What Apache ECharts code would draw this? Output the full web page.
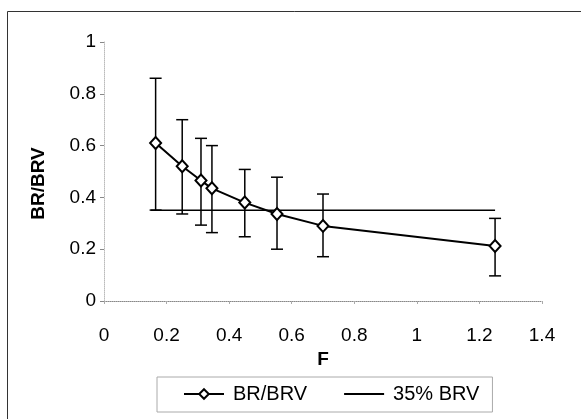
<!DOCTYPE html>
<html>
<head>
<meta charset="utf-8">
<script src="https://cdn.jsdelivr.net/npm/echarts@6/dist/echarts.min.js"></script>
<style>
  html, body { margin: 0; padding: 0; background: #fff; }
  #chart { width: 581px; height: 419px; }
</style>
</head>
<body>
<div id="chart"></div>
<script>
var fValues = [0.165, 0.25, 0.31, 0.345, 0.45, 0.553, 0.70, 1.25];
var ratio   = [0.61, 0.52, 0.465, 0.435, 0.38, 0.336, 0.29, 0.212];
var errHigh = [0.86, 0.70, 0.628, 0.60, 0.508, 0.478, 0.413, 0.319];
var errLow  = [0.351, 0.336, 0.293, 0.264, 0.248, 0.20, 0.171, 0.097];
var limitX  = [0.15, 1.25];
var limitY  = 0.35;

var font = 'Liberation Sans, Arial, sans-serif';

var lineData = fValues.map(function (f, i) { return [f, ratio[i]]; });
var errData = fValues.map(function (f, i) { return [f, errLow[i], errHigh[i]]; });
var limitData = limitX.map(function (x) { return [x, limitY]; });

function renderError(params, api) {
    var top = api.coord([api.value(0), api.value(2)]);
    var bot = api.coord([api.value(0), api.value(1)]);
    var w = 6;
    var st = { stroke: '#000', lineWidth: 1.5 };
    return {
        type: 'group',
        children: [
            { type: 'line', shape: { x1: top[0], y1: top[1], x2: bot[0], y2: bot[1] }, style: st },
            { type: 'line', shape: { x1: top[0] - w, y1: top[1], x2: top[0] + w, y2: top[1] }, style: st },
            { type: 'line', shape: { x1: bot[0] - w, y1: bot[1], x2: bot[0] + w, y2: bot[1] }, style: st }
        ]
    };
}

var chart = echarts.init(document.getElementById('chart'));
chart.setOption({
    animation: false,
    backgroundColor: '#fff',
    textStyle: { fontFamily: font, color: '#000' },
    graphic: [{
        type: 'rect',
        left: 5, top: 9,
        shape: { width: 620, height: 450 },
        style: { fill: 'none', stroke: '#333', lineWidth: 1 },
        silent: true
    }],
    grid: { left: 104, right: 39, top: 42, bottom: 118 },
    legend: {
        data: ['BR/BRV', { name: '35% BRV', itemStyle: { opacity: 0 } }],
        left: 157,
        top: 377,
        padding: [7, 13, 8, 26],
        itemWidth: 40,
        itemHeight: 12,
        itemGap: 36,
        borderColor: '#aaa',
        borderWidth: 1,
        textStyle: { fontFamily: font, fontSize: 20, color: '#000', padding: [0, 0, 0, 4] }
    },
    xAxis: {
        type: 'value',
        min: 0, max: 1.4, interval: 0.2,
        name: 'F',
        nameLocation: 'middle',
        nameGap: 42,
        nameTextStyle: { fontFamily: font, fontSize: 19, fontWeight: 'bold', color: '#000' },
        axisLine: { onZero: true, lineStyle: { color: '#888', type: 'dotted', width: 1 } },
        axisTick: { show: true, length: 3, lineStyle: { color: '#aaa' } },
        axisLabel: { margin: 25, fontSize: 19, color: '#000', fontFamily: font },
        splitLine: { show: false }
    },
    yAxis: {
        type: 'value',
        min: 0, max: 1, interval: 0.2,
        name: 'BR/BRV',
        nameLocation: 'middle',
        nameGap: 56,
        nameTextStyle: { fontFamily: font, fontSize: 19, fontWeight: 'bold', color: '#000', padding: [0, 24, 0, 0] },
        axisLine: { show: true, lineStyle: { color: '#bbb', type: 'dotted', width: 1 } },
        axisTick: { show: true, length: 4, lineStyle: { color: '#888' } },
        axisLabel: { margin: 8, fontSize: 19, color: '#000', fontFamily: font },
        splitLine: { show: false }
    },
    series: [
        {
            name: 'errors',
            type: 'custom',
            renderItem: renderError,
            data: errData,
            encode: { x: 0, y: [1, 2] },
            z: 1,
            silent: true
        },
        {
            name: '35% BRV',
            type: 'line',
            data: limitData,
            symbol: 'none',
            lineStyle: { color: '#000', width: 1.5 },
            itemStyle: { color: '#000' },
            z: 2
        },
        {
            name: 'BR/BRV',
            type: 'line',
            data: lineData,
            symbol: 'diamond',
            symbolSize: [11, 12],
            lineStyle: { color: '#000', width: 2 },
            itemStyle: { color: '#fff', borderColor: '#000', borderWidth: 2 },
            z: 3
        }
    ]
});
</script>
</body>
</html>
